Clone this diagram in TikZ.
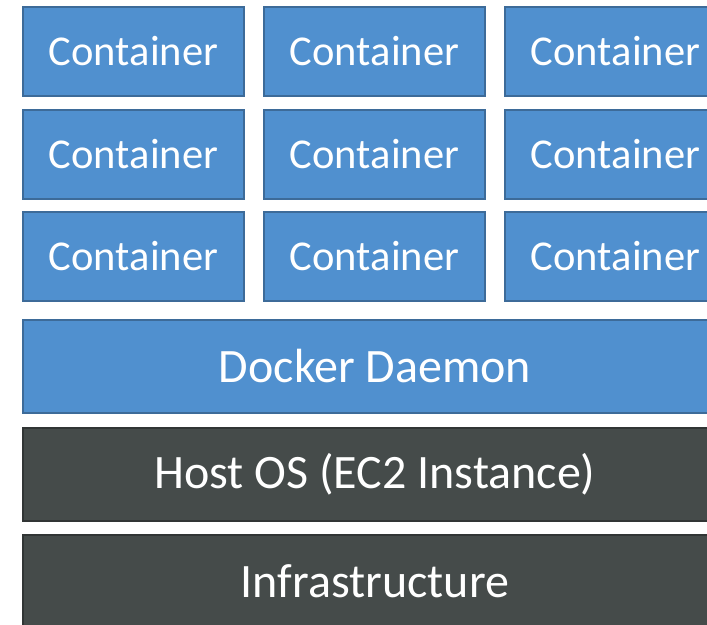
\documentclass[tikz,border=0pt]{standalone}
\usepackage{fontspec}
\setmainfont{Carlito}
\usetikzlibrary{positioning}
\definecolor{layerblue}{HTML}{5090CF}
\definecolor{layerblueedge}{HTML}{3D6B99}
\definecolor{layerdark}{HTML}{454B4A}
\definecolor{layerdarkedge}{HTML}{313535}
\tikzset{
  layer/.style={fill=#1, draw=#1edge, line width=2pt, text=white, inner sep=0pt},
  layer/.default=layerblue,
  ctr/.style={layer=layerblue, minimum width=221pt, minimum height=89pt,
              font=\fontsize{42.5}{50}\selectfont},
  band/.style={layer=#1, minimum width=704pt, minimum height=93pt,
               font=\fontsize{48}{56}\selectfont},
}
\begin{document}
\begin{tikzpicture}[x=1pt, y=-1pt]
  \useasboundingbox (0,0) rectangle (707,624);
  \clip (0,0) rectangle (707,624);
  % the container grid, three by three
  \foreach \r/\y in {1/51.5, 2/154.5, 3/256.5} {
    \foreach \c/\x in {1/133.5, 2/374.5, 3/615.5} {
      \node[ctr] (c\r-\c) at (\x,\y) {Container};
    }
  }
  % the layers under it
  \node[band=layerblue] (daemon) at (375,366.5) {Docker Daemon};
  \node[band=layerdark] (hostos) at (375,474) {Host OS (EC2 Instance)};
  \node[band=layerdark] (infra) at (375,581.5) {Infrastructure};
\end{tikzpicture}
\end{document}
